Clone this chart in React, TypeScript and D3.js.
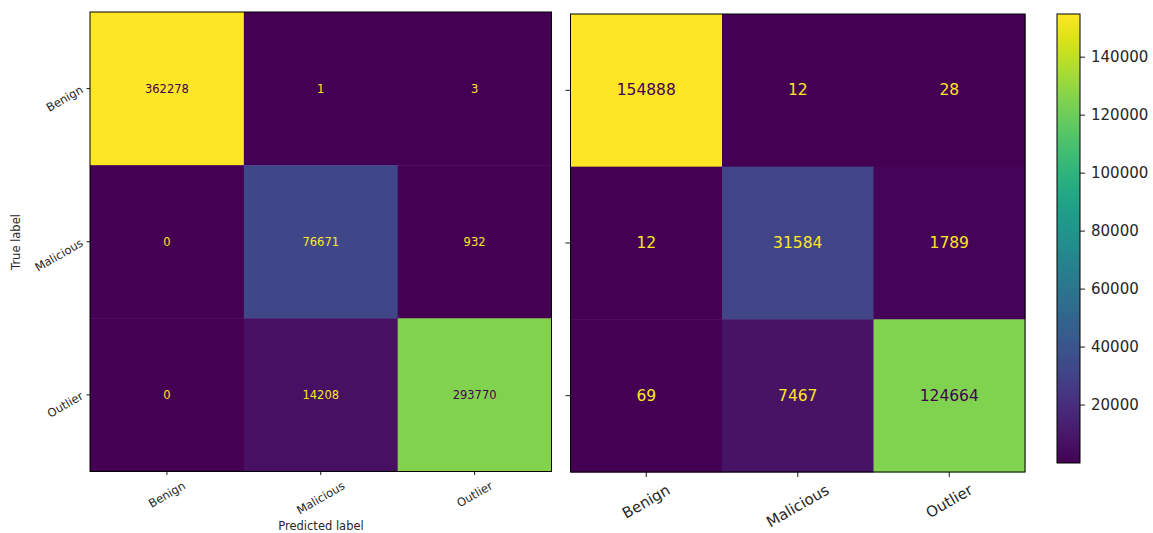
import React from "react";
import * as d3 from "d3";

const classes = ["Benign", "Malicious", "Outlier"];
const leftRows = [
  [362278, 1, 3],
  [0, 76671, 932],
  [0, 14208, 293770],
];
const rightRows = [
  [154888, 12, 28],
  [12, 31584, 1789],
  [69, 7467, 124664],
];
const colorbarTicks = [20000, 40000, 60000, 80000, 100000, 120000, 140000];

const FONT = "'DejaVu Sans', sans-serif";
const TXT = "#262626";

let ctx: CanvasRenderingContext2D | null = null;
function textWidth(s: string, fs: number) {
  if (!ctx) {
    const c = document.createElement("canvas");
    ctx = c.getContext("2d");
  }
  if (ctx) {
    ctx.font = `${fs}px 'DejaVu Sans'`;
    return ctx.measureText(s).width;
  }
  return s.length * 0.58 * fs;
}

type PanelProps = {
  rows: number[][];
  x0: number; x1: number; y0: number; y1: number;
  numFs: number; tickFs: number; tickLen: number;
  showYLabels: boolean; xLabelTop: number;
};

function Panel({ rows, x0, x1, y0, y1, numFs, tickFs, tickLen, showYLabels, xLabelTop }: PanelProps) {
  const xs = d3.scaleBand<string>().domain(classes).range([x0, x1]);
  const ys = d3.scaleBand<string>().domain(classes).range([y0, y1]);
  const flat = rows.flat();
  const vmin = d3.min(flat) as number;
  const vmax = d3.max(flat) as number;
  const norm = d3.scaleLinear().domain([vmin, vmax]).range([0, 1]);
  const thresh = (vmin + vmax) / 2;
  return (
    <g>
      {rows.map((r, i) =>
        r.map((v, j) => (
          <rect key={`c${i}-${j}`} x={xs(classes[j])} y={ys(classes[i])}
            width={xs.bandwidth() + 0.5} height={ys.bandwidth() + 0.5}
            fill={d3.interpolateViridis(norm(v))} />
        ))
      )}
      {rows.map((r, i) =>
        r.map((v, j) => (
          <text key={`t${i}-${j}`} x={(xs(classes[j]) as number) + xs.bandwidth() / 2}
            y={(ys(classes[i]) as number) + ys.bandwidth() / 2}
            textAnchor="middle" dominantBaseline="central" fontFamily={FONT} fontSize={numFs}
            fill={v < thresh ? d3.interpolateViridis(1) : d3.interpolateViridis(0)}>
            {v}
          </text>
        ))
      )}
      <rect x={x0} y={y0} width={x1 - x0} height={y1 - y0} fill="none" stroke="#000" strokeWidth={1} />
      {classes.map((c) => {
        const cy = (ys(c) as number) + ys.bandwidth() / 2;
        return (
          <g key={`yt${c}`}>
            <line x1={x0 - tickLen} x2={x0} y1={cy} y2={cy} stroke="#000" strokeWidth={0.9} />
            {showYLabels && (
              <text x={x0 - 8} y={cy} textAnchor="end" dominantBaseline="central"
                transform={`rotate(-30 ${x0 - 8} ${cy})`} fontFamily={FONT} fontSize={tickFs} fill={TXT}>
                {c}
              </text>
            )}
          </g>
        );
      })}
      {classes.map((c) => {
        const cx = (xs(c) as number) + xs.bandwidth() / 2;
        const w = textWidth(c, tickFs);
        const h = w * 0.5 + tickFs * 0.62;
        const cy = xLabelTop + h / 2;
        return (
          <g key={`xt${c}`}>
            <line x1={cx} x2={cx} y1={y1} y2={y1 + tickLen} stroke="#000" strokeWidth={0.9} />
            <text x={cx} y={cy} textAnchor="middle" dominantBaseline="central"
              transform={`rotate(-30 ${cx} ${cy})`} fontFamily={FONT} fontSize={tickFs} fill={TXT}>
              {c}
            </text>
          </g>
        );
      })}
    </g>
  );
}

export default function App() {
  const cbX0 = 1057, cbX1 = 1080, cbY0 = 14, cbY1 = 463;
  const rFlat = rightRows.flat();
  const cbScale = d3.scaleLinear()
    .domain([d3.min(rFlat) as number, d3.max(rFlat) as number])
    .range([cbY1, cbY0]);
  const stops = d3.range(0, 1.0001, 0.05);
  return (
    <svg width={1153} height={533} style={{ position: "absolute", left: 0, top: 0, background: "#fff" }}>
      <defs>
        <linearGradient id="vir" x1="0" y1="1" x2="0" y2="0">
          {stops.map((t) => (
            <stop key={t} offset={`${t * 100}%`} stopColor={d3.interpolateViridis(t)} />
          ))}
        </linearGradient>
      </defs>
      <rect x={0} y={0} width={1153} height={533} fill="#fff" />
      <Panel rows={leftRows} x0={90} x1={551.5} y0={12} y1={471.5} numFs={11.5} tickFs={11.5}
        tickLen={3.5} showYLabels={true} xLabelTop={481} />
      <Panel rows={rightRows} x0={570.5} x1={1025} y0={14} y1={472} numFs={15.5} tickFs={15}
        tickLen={5} showYLabels={false} xLabelTop={484} />
      <text x={321} y={530} textAnchor="middle" fontFamily={FONT} fontSize={11.5} fill={TXT}>Predicted label</text>
      <text x={0} y={0} transform="translate(20 242) rotate(-90)" textAnchor="middle" fontFamily={FONT}
        fontSize={11.5} fill={TXT}>True label</text>
      <rect x={cbX0} y={cbY0} width={cbX1 - cbX0} height={cbY1 - cbY0} fill="url(#vir)" stroke="#000" strokeWidth={1} />
      {colorbarTicks.map((t) => (
        <g key={t}>
          <line x1={cbX1} x2={cbX1 + 5} y1={cbScale(t)} y2={cbScale(t)} stroke="#000" strokeWidth={0.9} />
          <text x={cbX1 + 11} y={cbScale(t)} dominantBaseline="central" fontFamily={FONT} fontSize={15} fill={TXT}>
            {t}
          </text>
        </g>
      ))}
    </svg>
  );
}
